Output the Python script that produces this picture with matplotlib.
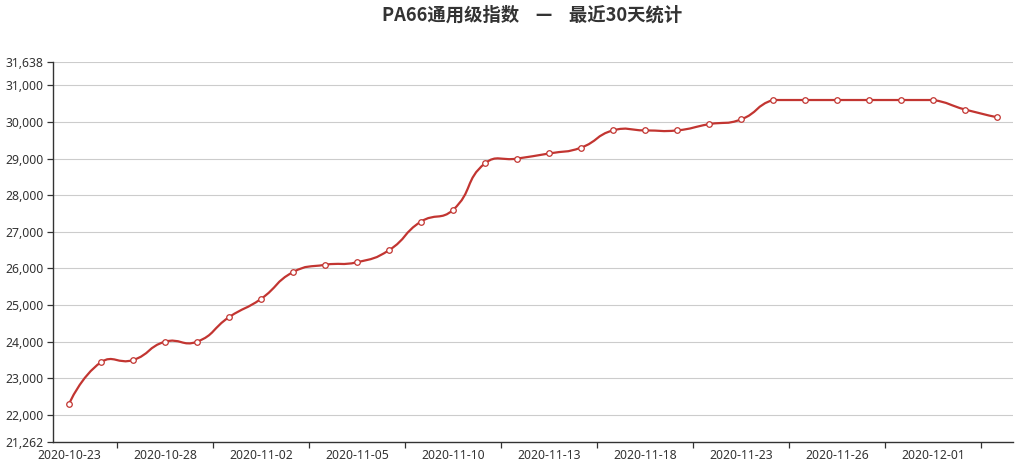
import numpy as np
import matplotlib
matplotlib.use("Agg")
import matplotlib.pyplot as plt
from matplotlib.path import Path
from matplotlib.patches import PathPatch

plt.rcParams['font.family'] = ['Noto Sans CJK SC', 'DejaVu Sans']

title = "PA66通用级指数    —    最近30天统计"
dates = ["2020-10-23", "2020-10-26", "2020-10-27", "2020-10-28", "2020-10-29",
         "2020-10-30", "2020-11-02", "2020-11-03", "2020-11-04", "2020-11-05",
         "2020-11-06", "2020-11-09", "2020-11-10", "2020-11-11", "2020-11-12",
         "2020-11-13", "2020-11-16", "2020-11-17", "2020-11-18", "2020-11-19",
         "2020-11-20", "2020-11-23", "2020-11-24", "2020-11-25", "2020-11-26",
         "2020-11-27", "2020-11-30", "2020-12-01", "2020-12-02", "2020-12-03"]
values = [22300, 23440, 23500, 24000, 24000, 24670, 25170, 25900, 26100, 26170,
          26500, 27280, 27600, 28870, 29000, 29140, 29300, 29770, 29770, 29770,
          29940, 30070, 30600, 30600, 30600, 30600, 30600, 30600, 30340, 30130]
y_min, y_max = 21262, 31638
y_ticks = [21262, 22000, 23000, 24000, 25000, 26000, 27000, 28000, 29000, 30000, 31000, 31638]

line_color = '#c23531'
text_color = '#333333'
tick_font = ['Noto Sans', 'DejaVu Sans']

W, H = 1024, 468
fig = plt.figure(figsize=(W / 100, H / 100), dpi=100)
ax = fig.add_axes([53 / W, (H - 442) / H, 960 / W, 380 / H])
n = len(values)
xs = np.arange(n)
ax.set_xlim(-0.5, n - 0.5)
ax.set_ylim(y_min, y_max)

# ECharts-style smooth curve (smooth=0.5, constrained to bounding box), computed in pixel space
pts = ax.transData.transform(np.column_stack([xs, values]))
smooth = 0.5
lo = pts.min(axis=0)
hi = pts.max(axis=0)
verts = [pts[0]]
codes = [Path.MOVETO]
cp0 = pts[0].copy()
for i in range(1, n):
    p = pts[i]
    prev = pts[i - 1]
    if i + 1 < n:
        nxt = pts[i + 1]
        v = nxt - prev
        d0 = np.hypot(*(p - prev))
        d1 = np.hypot(*(p - nxt))
        ratio = d1 / (d0 + d1)
        cp1 = p - v * smooth * (1 - ratio)
    else:
        cp1 = p.copy()
        v = np.zeros(2)
        ratio = 0.5
    cp0c = np.clip(cp0, lo, hi)
    cp1c = np.clip(cp1, lo, hi)
    verts += [cp0c, cp1c, p]
    codes += [Path.CURVE4] * 3
    cp0 = p + v * smooth * ratio
verts_data = ax.transData.inverted().transform(np.array(verts))
path = Path(verts_data, codes)
ax.add_patch(PathPatch(path, facecolor='none', edgecolor=line_color, lw=1.6, zorder=3,
                       capstyle='round', joinstyle='round'))
ax.plot(xs, values, linestyle='none', marker='o', markersize=4.0, markerfacecolor='white',
        markeredgecolor=line_color, markeredgewidth=0.9, zorder=4)

# y axis
ax.set_yticks(y_ticks)
ax.set_yticklabels([f"{t:,}" for t in y_ticks], family=tick_font)
for t in y_ticks[1:]:
    ax.axhline(t, color='#cccccc', lw=0.8, zorder=1)

# x axis: labels every 3rd category, ticks at category boundaries
ax.set_xticks(xs[::3])
ax.set_xticklabels(dates[::3], family=tick_font)
ax.set_xticks(np.arange(1.5, n, 3), minor=True)
ax.tick_params(axis='x', which='major', length=0, pad=5, labelsize=8.8, labelcolor=text_color)
ax.tick_params(axis='x', which='minor', length=4, width=0.9, color=text_color)
ax.tick_params(axis='y', which='major', length=4, width=0.9, color=text_color, pad=3,
               labelsize=8.8, labelcolor=text_color)

for s in ['top', 'right']:
    ax.spines[s].set_visible(False)
for s in ['left', 'bottom']:
    ax.spines[s].set_color(text_color)
    ax.spines[s].set_linewidth(1.0)

fig.text(532 / W, 1 - 15 / H, title, ha='center', va='center', fontsize=13.2,
         fontweight='bold', color=text_color)

fig.savefig('out.png', dpi=100)
